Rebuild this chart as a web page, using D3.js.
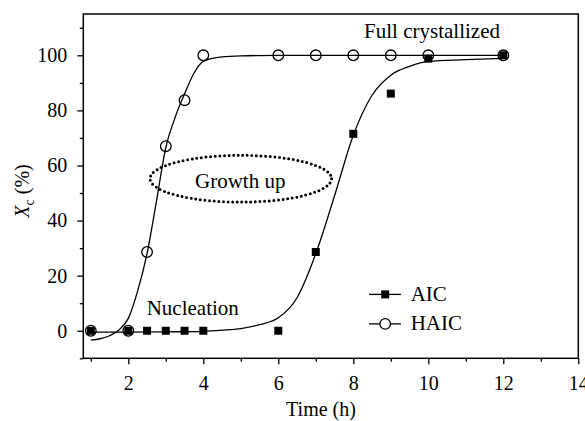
<!DOCTYPE html>
<html>
<head>
<meta charset="utf-8">
<script src="https://cdn.jsdelivr.net/npm/d3@7"></script>
<style>
  html, body { margin: 0; padding: 0; background: #fff; }
  svg { display: block; }
  svg text { font-family: "Liberation Serif", "DejaVu Serif", serif; }
</style>
</head>
<body>
<div id="chart"></div>
<script>
// Measured points (time in h, Xc in %)
const aicTime   = [1, 2, 2.5, 3, 3.5, 4, 6, 7, 8, 9, 10, 12];
const aicXc     = [0, 0, 0, 0, 0, 0, 0, 28.6, 71.5, 86.1, 98.8, 100];
const haicTime  = [1, 2, 2.5, 3, 3.5, 4, 6, 7, 8, 9, 10, 12];
const haicXc    = [0, 0, 28.6, 67, 83.7, 100, 100, 100, 100, 100, 100, 100];

// Fitted sigmoid curves
const aicFitTime  = [1, 2, 3, 4, 4.5, 5, 5.5, 6, 6.5, 7, 7.5, 8, 8.5, 9, 9.5, 10, 11, 12];
const aicFitXc    = [-0.5, -0.5, -0.4, -0.2, 0.2, 0.8, 2.2, 4.7, 12, 28, 49, 71, 85.5, 92.8, 96, 97.8, 98.4, 98.9];
const haicFitTime = [1, 1.25, 1.5, 1.75, 2, 2.25, 2.5, 2.75, 3, 3.25, 3.5, 3.75, 4, 4.5, 5, 6, 8, 10, 12];
const haicFitXc   = [-3.4, -2.9, -1.8, 0.3, 4.5, 14.5, 28, 47, 66.5, 77.5, 86, 93.5, 97.8, 99.4, 99.8, 100, 100, 100, 100];

const xMajor = [2, 4, 6, 8, 10, 12, 14];
const xMinor = [1, 3, 5, 7, 9, 11, 13];
const yMajor = [0, 20, 40, 60, 80, 100];
const yMinor = [-10, 10, 30, 50, 70, 90, 110];

(() => {
  const width = 585, height = 421;
  const margin = { top: 14, right: 6.7, bottom: 62.7, left: 83.3 };
  const fs = 20;   // ticks, axis titles
  const fsNote = 21;
  const serif = '"Liberation Serif", "DejaVu Serif", serif';

  const svg = d3.select('#chart').append('svg')
    .attr('width', width)
    .attr('height', height);

  const x = d3.scaleLinear().domain([0.8, 14]).range([margin.left, width - margin.right]);
  const y = d3.scaleLinear().domain([-10, 115]).range([height - margin.bottom, margin.top]);

  // Axes
  const styleAxis = g => {
    g.attr('font-family', serif).attr('font-size', fs);
    g.select('.domain').remove();
    g.selectAll('.tick line').attr('stroke', '#000').attr('stroke-width', 1.3);
    g.selectAll('.tick text')
      .attr('fill', '#000')
      .style('font-family', serif)
      .style('font-size', fs + 'px');
  };

  svg.append('g')
    .attr('transform', `translate(0,${y.range()[0]})`)
    .call(d3.axisBottom(x).tickValues(xMajor).tickSize(6).tickPadding(12).tickFormat(d3.format('d')))
    .call(styleAxis);
  svg.append('g')
    .attr('transform', `translate(0,${y.range()[0]})`)
    .call(d3.axisBottom(x).tickValues(xMinor).tickSize(3.5).tickFormat(''))
    .call(styleAxis);

  svg.append('g')
    .attr('transform', `translate(${x.range()[0]},0)`)
    .call(d3.axisLeft(y).tickValues(yMajor).tickSize(6).tickPadding(10).tickFormat(d3.format('d')))
    .call(styleAxis);
  svg.append('g')
    .attr('transform', `translate(${x.range()[0]},0)`)
    .call(d3.axisLeft(y).tickValues(yMinor).tickSize(3.5).tickFormat(''))
    .call(styleAxis);

  // Frame
  svg.append('rect')
    .attr('x', x.range()[0])
    .attr('y', y.range()[1])
    .attr('width', x.range()[1] - x.range()[0])
    .attr('height', y.range()[0] - y.range()[1])
    .attr('fill', 'none')
    .attr('stroke', '#000')
    .attr('stroke-width', 1.5);

  // Axis titles
  svg.append('text')
    .attr('x', 321)
    .attr('y', 416)
    .attr('text-anchor', 'middle')
    .style('font-size', fs + 'px')
    .text('Time (h)');

  const yl = svg.append('text')
    .attr('transform', 'translate(29,191) rotate(-90)')
    .attr('text-anchor', 'middle')
    .style('font-size', fs + 'px');
  yl.append('tspan').style('font-style', 'italic').text('X');
  yl.append('tspan').attr('dy', 5).style('font-size', '14px').text('c');
  yl.append('tspan').attr('dy', -5).text(' (%)');

  // Fit curves
  const line = d3.line().x(d => x(d[0])).y(d => y(d[1])).curve(d3.curveMonotoneX);
  const aicFit = aicFitTime.map((t, i) => [t, aicFitXc[i]]);
  const haicFit = haicFitTime.map((t, i) => [t, haicFitXc[i]]);

  svg.append('path').datum(aicFit)
    .attr('d', line).attr('fill', 'none').attr('stroke', '#000').attr('stroke-width', 1.3);
  svg.append('path').datum(haicFit)
    .attr('d', line).attr('fill', 'none').attr('stroke', '#000').attr('stroke-width', 1.3);

  // Markers
  const sq = 8;
  const aicPts = aicTime.map((t, i) => [t, aicXc[i]]);
  const haicPts = haicTime.map((t, i) => [t, haicXc[i]]);

  svg.append('g').selectAll('rect')
    .data(aicPts)
    .join('rect')
    .attr('x', d => x(d[0]) - sq / 2)
    .attr('y', d => y(d[1]) - sq / 2)
    .attr('width', sq)
    .attr('height', sq)
    .attr('fill', '#000');

  svg.append('g').selectAll('circle')
    .data(haicPts)
    .join('circle')
    .attr('cx', d => x(d[0]))
    .attr('cy', d => y(d[1]))
    .attr('r', 5.3)
    .attr('fill', 'none')
    .attr('stroke', '#000')
    .attr('stroke-width', 1.3);

  // Annotations
  svg.append('ellipse')
    .attr('cx', x(5))
    .attr('cy', y(55.2))
    .attr('rx', x(5) - x(2.58))
    .attr('ry', y(46.7) - y(55.2))
    .attr('fill', 'none')
    .attr('stroke', '#000')
    .attr('stroke-width', 3)
    .attr('stroke-linecap', 'round')
    .attr('stroke-dasharray', '0 4.6');

  const note = (tx, ty, s, anchor) => svg.append('text')
    .attr('x', x(tx))
    .attr('y', y(ty))
    .attr('text-anchor', anchor || 'start')
    .style('font-size', fsNote + 'px')
    .text(s);

  note(3.78, 51.7, 'Growth up');
  note(2.49, 5.7, 'Nucleation');
  note(10.1, 106.2, 'Full crystallized', 'middle');

  // Legend
  const legend = svg.append('g');
  const items = [
    { label: 'AIC', ly: 13.2, ty: 10.8, mark: 'square' },
    { label: 'HAIC', ly: 2.5, ty: 0.3, mark: 'circle' }
  ];
  items.forEach(it => {
    legend.append('line')
      .attr('x1', x(8.42)).attr('x2', x(9.27))
      .attr('y1', y(it.ly)).attr('y2', y(it.ly))
      .attr('stroke', '#000').attr('stroke-width', 1.3);
    if (it.mark === 'square') {
      legend.append('rect')
        .attr('x', x(8.85) - sq / 2).attr('y', y(it.ly) - sq / 2)
        .attr('width', sq).attr('height', sq).attr('fill', '#000');
    } else {
      legend.append('circle')
        .attr('cx', x(8.85)).attr('cy', y(it.ly)).attr('r', 5.3)
        .attr('fill', '#fff').attr('stroke', '#000').attr('stroke-width', 1.3);
    }
    legend.append('text')
      .attr('x', x(9.53)).attr('y', y(it.ty))
      .style('font-size', fsNote + 'px')
      .text(it.label);
  });
})();
</script>
</body>
</html>
